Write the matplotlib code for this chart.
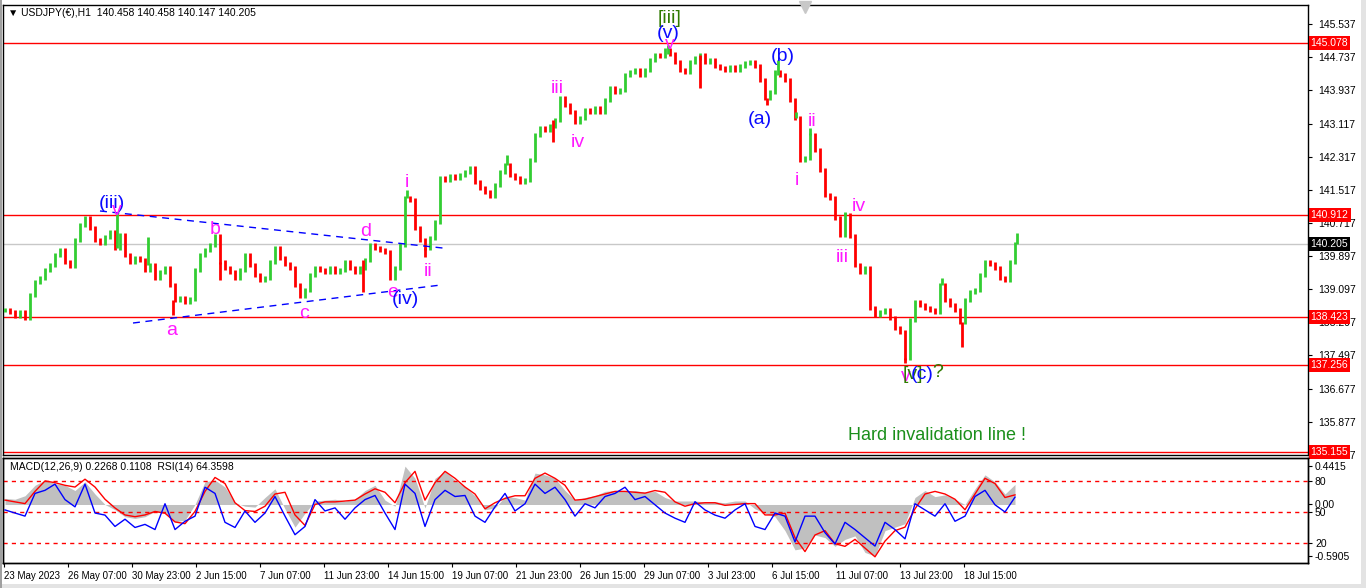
import numpy as np
import matplotlib.pyplot as plt
from matplotlib.collections import LineCollection
from matplotlib.patches import Rectangle
import matplotlib.transforms as mtransforms

plt.rcParams['font.family'] = ['Liberation Sans', 'DejaVu Sans']

# H1 closes, one every 5 bars (23 May 2023 -> 20 Jul 2023)
bar_step = 5
close_prices = [
    138.60, 138.55, 138.45, 138.55, 138.40, 138.96, 139.27, 139.37, 139.57, 139.69,
    139.93, 140.05, 139.76, 139.66, 140.29, 140.66, 140.83, 140.59, 140.29, 140.22,
    140.37, 140.49, 140.10, 140.42, 139.93, 139.76, 139.86, 139.81, 139.57, 139.69,
    139.37, 139.52, 139.61, 139.20, 138.84, 138.89, 138.79, 138.86, 139.57, 139.93,
    140.05, 140.17, 140.39, 139.76, 139.61, 139.52, 139.37, 139.57, 139.93, 139.69,
    139.45, 139.32, 139.37, 139.76, 140.10, 139.86, 139.71, 139.61, 139.20, 138.94,
    139.08, 139.45, 139.61, 139.57, 139.52, 139.61, 139.52, 139.57, 139.76, 139.61,
    139.52, 139.61, 139.81, 140.17, 140.10, 140.05, 140.00, 139.37, 139.61, 140.17,
    141.31, 141.27, 140.59, 140.29, 140.10, 140.34, 140.73, 141.80, 141.75, 141.85,
    141.80, 141.87, 141.95, 142.04, 141.70, 141.56, 141.46, 141.36, 141.63, 141.95,
    142.12, 141.87, 141.80, 141.70, 141.75, 142.24, 142.84, 143.01, 142.97, 143.06,
    143.21, 143.74, 143.57, 143.40, 143.16, 143.26, 143.45, 143.40, 143.50, 143.40,
    143.69, 143.98, 143.89, 143.94, 144.30, 144.37, 144.42, 144.30, 144.42, 144.66,
    144.79, 144.76, 144.91, 144.81, 144.61, 144.42, 144.37, 144.61, 144.71, 144.79,
    144.61, 144.66, 144.52, 144.47, 144.42, 144.49, 144.42, 144.52, 144.59, 144.61,
    144.52, 144.18, 143.74, 143.89, 144.37, 144.30, 144.18, 143.69, 143.26, 142.24,
    142.28, 142.84, 142.48, 141.99, 141.39, 141.31, 140.83, 140.42, 140.90, 140.39,
    139.69, 139.52, 139.61, 138.64, 138.47, 138.55, 138.60, 138.40, 138.16, 138.06,
    137.43, 138.35, 138.79, 138.72, 138.64, 138.60, 138.55, 139.20, 138.84, 138.72,
    138.60, 138.30, 138.84, 139.03, 139.08, 139.45, 139.76, 139.71, 139.61, 139.37,
    139.32, 139.76, 140.20,
]

# single-bar wicks that stick out of the run
spike_bars = [112, 143, 168, 215, 358, 402, 420, 502, 548, 663, 695, 762, 773, 791, 805, 840, 900, 937, 957, 1012]
spike_prices = [140.95, 140.37, 138.47, 139.32, 139.03, 141.51, 139.88, 142.36, 142.67, 145.03,
                143.98, 143.57, 144.66, 143.40, 143.01, 140.97, 137.30, 139.37, 137.70, 140.46]

# indicator window, one value every 10 bars
ind_step = 10
macd_main = [
    0.07, 0.06, 0.10, 0.22, 0.28, 0.24, 0.22, 0.16, 0.26, 0.12,
    0.00, -0.06, -0.14, -0.16, -0.14, -0.08, -0.10, -0.20, -0.18, 0.00,
    0.26, 0.28, 0.20, 0.02, -0.02, -0.03, 0.08, 0.18, -0.05, -0.26,
    -0.10, 0.04, 0.05, 0.06, 0.04, 0.06, 0.16, 0.22, 0.05, -0.02,
    0.44, 0.30, -0.04, 0.30, 0.38, 0.28, 0.20, 0.10, -0.06, -0.04,
    0.09, 0.08, 0.05, 0.36, 0.34, 0.30, 0.16, 0.05, 0.08, 0.10,
    0.15, 0.16, 0.15, 0.16, 0.14, 0.15, 0.08, 0.04, 0.04, 0.04,
    0.03, 0.03, 0.02, 0.04, 0.04, -0.05, -0.10, -0.14, -0.30, -0.52,
    -0.50, -0.35, -0.38, -0.48, -0.40, -0.36, -0.55, -0.59, -0.30, -0.26,
    -0.22, 0.08, 0.16, 0.09, 0.11, 0.06, 0.00, 0.18, 0.34, 0.26,
    0.12, 0.23,
]
macd_signal = [
    0.05, 0.03, 0.01, 0.15, 0.27, 0.25, 0.22, 0.20, 0.29, 0.20,
    0.06, -0.04, -0.12, -0.14, -0.12, -0.08, -0.10, -0.20, -0.22, -0.08,
    0.15, 0.31, 0.24, 0.02, -0.07, -0.08, -0.02, 0.12, 0.14, -0.12,
    -0.24, 0.00, 0.03, 0.03, 0.04, 0.05, 0.12, 0.18, 0.14, 0.02,
    0.25, 0.38, 0.05, 0.25, 0.38, 0.30, 0.20, 0.12, -0.05, 0.02,
    0.07, 0.10, 0.10, 0.30, 0.36, 0.30, 0.22, 0.05, 0.06, 0.09,
    0.12, 0.15, 0.15, 0.14, 0.13, 0.16, 0.14, 0.03, -0.02, 0.01,
    0.02, 0.02, -0.01, 0.00, 0.01, 0.01, -0.12, -0.12, -0.10, -0.38,
    -0.54, -0.35, -0.30, -0.45, -0.48, -0.40, -0.50, -0.60, -0.42, -0.30,
    -0.26, -0.05, 0.12, 0.15, 0.12, 0.06, -0.06, 0.12, 0.30, 0.24,
    0.08, 0.11,
]
rsi_values = [
    52, 49, 46, 68, 71, 77, 62, 55, 77, 49,
    47, 36, 43, 35, 38, 33, 58, 33, 41, 46,
    74, 68, 40, 35, 51, 40, 49, 65, 46, 28,
    36, 62, 51, 54, 43, 54, 62, 66, 49, 33,
    77, 68, 36, 62, 71, 65, 66, 46, 40, 55,
    68, 51, 58, 77, 68, 74, 62, 46, 58, 54,
    65, 68, 74, 62, 65, 57, 49, 44, 40, 60,
    52, 47, 44, 52, 58, 36, 33, 49, 46, 21,
    46, 46, 30, 19, 40, 33, 25, 17, 40, 33,
    24, 58, 52, 46, 58, 41, 46, 65, 71, 57,
    50, 64.4,
]

price_ticks = [145.537, 144.737, 143.937, 143.117, 142.317, 141.517, 140.717,
               139.897, 139.097, 138.297, 137.497, 136.677, 135.877, 135.077]
level_prices = [145.078, 140.912, 138.423, 137.256, 135.155]
last_price = 140.205
time_labels = ['23 May 2023', '26 May 07:00', '30 May 23:00', '2 Jun 15:00', '7 Jun 07:00',
               '11 Jun 23:00', '14 Jun 15:00', '19 Jun 07:00', '21 Jun 23:00', '26 Jun 15:00',
               '29 Jun 07:00', '3 Jul 23:00', '6 Jul 15:00', '11 Jul 07:00', '13 Jul 23:00',
               '18 Jul 15:00']
bars_per_label = 64

# triangle (iv) boundaries: (bar, price) end points
upper_bars, upper_prices = [95, 438], [141.00, 140.10]
lower_bars, lower_prices = [128, 435], [138.28, 139.20]

# wave counts: text, bar, price, colour
BLUE, MAG, GRN = '#0a0aff', '#ff1aff', '#2f7a00'
wave_labels = [
    ('(iii)', 107, 141.19, BLUE), ('v', 112, 141.02, MAG), ('b', 210, 140.56, MAG),
    ('a', 167, 138.09, MAG), ('c', 299, 138.52, MAG), ('d', 361, 140.49, MAG),
    ('e', 388, 139.03, MAG), ('(iv)', 400, 138.84, BLUE), ('i', 402, 141.68, MAG),
    ('ii', 423, 139.52, MAG), ('iii', 552, 143.98, MAG), ('iv', 573, 142.67, MAG),
    ('[iii]', 665, 145.68, GRN), ('(v)', 663, 145.32, BLUE), ('v', 665, 145.03, MAG),
    ('(a)', 755, 143.21, BLUE), ('(b)', 778, 144.74, BLUE), ('i', 792, 141.73, MAG),
    ('ii', 807, 143.18, MAG), ('iii', 837, 139.88, MAG), ('iv', 854, 141.12, MAG),
    ('v', 901, 136.99, MAG), ('[v]', 908, 137.04, GRN), ('(c)', 917, 137.04, BLUE),
    ('?', 933, 137.09, GRN),
]

W, H = 1366, 588
fig = plt.figure(figsize=(W / 100, H / 100), dpi=100)
fig.patches.append(Rectangle((1361 / W, 0), 5 / W, 1, transform=fig.transFigure, fc='#e3e3e3', ec='none'))
fig.patches.append(Rectangle((0, 0), 1, 4 / H, transform=fig.transFigure, fc='#e3e3e3', ec='none'))
fig.patches.append(Rectangle((0, 0), 2 / W, 1, transform=fig.transFigure, fc='#a0a0a0', ec='none'))

# ---- price window
ax = fig.add_axes([3 / W, 1 - 455 / H, 1305 / W, 450 / H])
ax.set_xlim(-2, 1303)
ax.set_ylim(135.076, 146.0)

wick = 0.05  # drawing margin so flat bars still show
segs, cols = [], []
for i, c in enumerate(close_prices):
    o = close_prices[i - 1] if i else c
    x = i * bar_step
    segs.append([(x, min(o, c) - wick), (x, max(o, c) + wick)])
    cols.append('#32cd32' if c >= o else '#ff0000')
for b, p in zip(spike_bars, spike_prices):
    ref = close_prices[min(int(round(b / bar_step)), len(close_prices) - 1)]
    segs.append([(b, ref), (b, p)])
    cols.append('#32cd32' if p > ref else '#ff0000')
ax.add_collection(LineCollection(segs, colors=cols, linewidths=2.0, zorder=3))

for lv in level_prices:
    ax.axhline(lv, color='#ff0000', lw=1, zorder=2)
ax.axhline(last_price, color='#c8c8c8', lw=1, zorder=1)

ax.plot(upper_bars, upper_prices, color='#0000ff', lw=1, dashes=(5, 4), zorder=4)
ax.plot(lower_bars, lower_prices, color='#0000ff', lw=1, dashes=(5, 4), zorder=4)

for txt, b, p, col in wave_labels:
    ax.text(b, p, txt, color=col, fontsize=14, ha='center', va='center', zorder=5)
ax.text(932, 135.54, 'Hard invalidation line !', color='#1b8f1b', fontsize=13,
        ha='center', va='center', zorder=5)

ax.plot([800], [145.95], marker='v', ms=8, color='#c8c8c8', clip_on=False, zorder=6)

ax.yaxis.tick_right()
ax.set_yticks(price_ticks)
ax.set_yticklabels(['%.3f' % t for t in price_ticks])
ax.tick_params(axis='y', length=3, width=0.8, labelsize=7.5, pad=4, colors='black')
ax.set_xticks([])

trans = mtransforms.blended_transform_factory(ax.transAxes, ax.transData)
for lv in level_prices:
    ax.text(1.002, lv, '%.3f' % lv, transform=trans, color='white', fontsize=7.5,
            ha='left', va='center', clip_on=False, zorder=7,
            bbox=dict(boxstyle='square,pad=0.2', fc='#ff0000', ec='none'))
ax.text(1.002, last_price, '%.3f' % last_price, transform=trans, color='white', fontsize=7.5,
        ha='left', va='center', clip_on=False, zorder=7,
        bbox=dict(boxstyle='square,pad=0.2', fc='black', ec='none'))

for s in ax.spines.values():
    s.set_color('black')
    s.set_linewidth(1)

fig.text(8 / W, 1 - 13 / H, '\u25bc USDJPY(\u20ac),H1  140.458 140.458 140.147 140.205',
         fontsize=7.5, va='center', ha='left')

# ---- indicator window
ax2 = fig.add_axes([3 / W, 1 - 563 / H, 1305 / W, 105 / H])
ax3 = ax2.twinx()
ax2.set_zorder(ax3.get_zorder() + 1)
ax2.patch.set_visible(False)

xi = np.arange(len(macd_main)) * ind_step
ax3.fill_between(xi, 0, macd_main, color='#c0c0c0', lw=0, zorder=1)
ax3.plot(xi, macd_signal, color='#ff0000', lw=1, zorder=2)
ax3.set_ylim(-0.671, 0.533)
ax3.set_yticks([0.4415, 0.0, -0.5905])
ax3.set_yticklabels(['0.4415', '0.00', '-0.5905'])

ax2.plot(np.arange(len(rsi_values)) * ind_step, rsi_values, color='#0000ff', lw=1, zorder=3)
for lv in (80, 50, 20):
    ax2.axhline(lv, color='#ff0000', lw=1, dashes=(3, 3), zorder=2)
ax2.set_xlim(-2, 1303)
ax2.set_ylim(0.6, 102.3)
ax2.yaxis.tick_right()
ax2.set_yticks([80, 50, 20])
ax2.set_yticklabels(['80', '50', '20'])

for a in (ax2, ax3):
    a.tick_params(axis='y', length=3, width=0.8, labelsize=7.5, pad=2)
    for s in a.spines.values():
        s.set_color('black')
        s.set_linewidth(1)

tick_pos = np.arange(len(time_labels)) * bars_per_label - 1
ax2.set_xticks(tick_pos)
ax2.set_xticklabels(time_labels, ha='left')
ax2.tick_params(axis='x', length=3, width=0.8, labelsize=7, pad=3)

fig.text(10 / W, 1 - 467 / H, 'MACD(12,26,9) 0.2268 0.1108  RSI(14) 64.3598',
         fontsize=7.5, va='center', ha='left')

fig.savefig('out.png', dpi=100)
